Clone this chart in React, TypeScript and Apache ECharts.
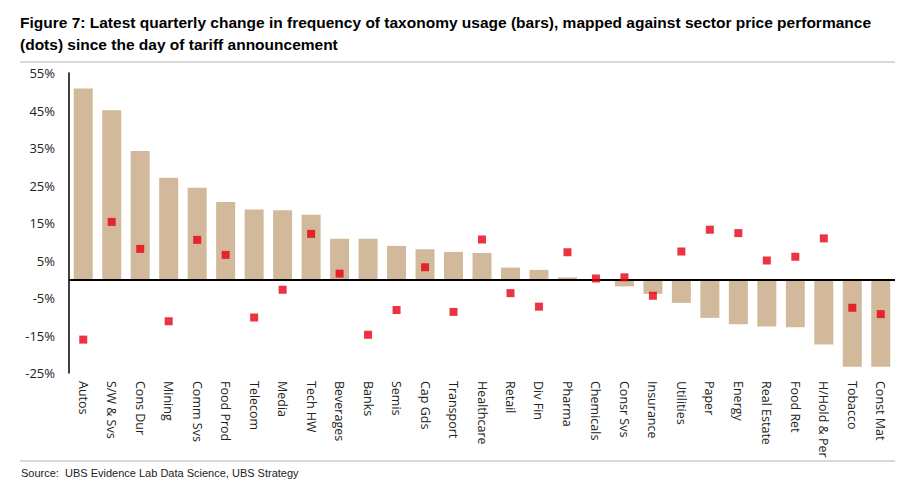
import React, { useEffect, useRef } from "react";
import * as echarts from "echarts";

const categories = [
  "Autos", "S/W & Svs", "Cons Dur", "Mining", "Comm Svs", "Food Prod", "Telecom", "Media", "Tech HW",
  "Beverages", "Banks", "Semis", "Cap Gds", "Transport", "Healthcare", "Retail", "Div Fin", "Pharma",
  "Chemicals", "Consr Svs", "Insurance", "Utilities", "Paper", "Energy", "Real Estate", "Food Ret",
  "H/Hold & Per", "Tobacco", "Const Mat",
];

// Latest quarterly change in frequency of taxonomy usage (bars), %
const usageChange = [
  50.9, 45.1, 34.2, 27.1, 24.4, 20.6, 18.6, 18.4, 17.2,
  10.8, 10.8, 8.9, 8.0, 7.3, 7.0, 3.1, 2.5, 0.5,
  0.0, -1.9, -3.9, -6.3, -10.3, -12.0, -12.6, -12.8,
  -17.4, -23.3, -23.3,
];

// Sector price performance since tariff announcement (dots), %
const pricePerf = [
  -16.1, 15.3, 8.1, -11.2, 10.5, 6.5, -10.2, -2.8, 12.1,
  1.5, -14.8, -8.2, 3.2, -8.7, 10.6, -3.7, -7.3, 7.2,
  0.2, 0.5, -4.4, 7.4, 13.2, 12.3, 5.0, 6.0,
  10.9, -7.6, -9.3,
];

const yTicks = { min: -25, max: 55, interval: 10 };

const titleLines = [
  "Figure 7: Latest quarterly change in frequency of taxonomy usage (bars), mapped against sector price performance",
  "(dots) since the day of tariff announcement",
];
const sourceText = "Source:  UBS Evidence Lab Data Science, UBS Strategy";

export default function App() {
  const ref = useRef<HTMLDivElement>(null);

  useEffect(() => {
    document.body.style.margin = "0";
    if (!ref.current) return;
    const chart = echarts.init(ref.current, null, { renderer: "svg" });
    const labelFont = "'Open Sans', 'DejaVu Sans', sans-serif";
    const titleFont = "'Liberation Sans Narrow', 'Liberation Sans', sans-serif";
    chart.setOption({
      animation: false,
      backgroundColor: "#ffffff",
      grid: { left: 69, right: 24, top: 73, bottom: 124, containLabel: false },
      xAxis: {
        type: "category",
        data: categories,
        axisLine: { show: false, onZero: false },
        axisTick: { show: false },
        axisLabel: {
          rotate: -90,
          interval: 0,
          margin: 8,
          color: "#222",
          fontSize: 12.5,
          fontFamily: labelFont,
        },
        splitLine: { show: false },
      },
      yAxis: {
        type: "value",
        min: yTicks.min,
        max: yTicks.max,
        interval: yTicks.interval,
        axisLine: { show: true, lineStyle: { color: "#000", width: 1.5 } },
        axisTick: { show: false },
        splitLine: { show: false },
        axisLabel: {
          formatter: (v: number) => `${v}%`,
          margin: 14,
          color: "#222",
          fontSize: 13,
          fontFamily: labelFont,
        },
      },
      series: [
        {
          name: "Usage change",
          type: "bar",
          data: usageChange,
          barWidth: 19,
          itemStyle: { color: "#d2b99c" },
          markLine: {
            silent: true,
            symbol: "none",
            label: { show: false },
            lineStyle: { color: "#000", width: 2, type: "solid" },
            data: [{ yAxis: 0 }],
          },
          z: 2,
        },
        {
          name: "Price performance",
          type: "scatter",
          data: pricePerf,
          symbol: "rect",
          symbolSize: 8,
          itemStyle: { color: "#e60012" },
          z: 5,
        },
      ],
      graphic: [
        {
          type: "text",
          left: 20,
          top: 14,
          style: {
            text: titleLines[0],
            font: `bold 15.5px ${titleFont}`,
            fill: "#000",
          },
        },
        {
          type: "text",
          left: 20,
          top: 36,
          style: {
            text: titleLines[1],
            font: `bold 15.5px ${titleFont}`,
            fill: "#000",
          },
        },
        {
          type: "line",
          shape: { x1: 20, y1: 62, x2: 895, y2: 62 },
          style: { stroke: "#cccccc", lineWidth: 1.5 },
        },
        {
          type: "line",
          shape: { x1: 20, y1: 461, x2: 895, y2: 461 },
          style: { stroke: "#cccccc", lineWidth: 1.5 },
        },
        {
          type: "text",
          left: 21,
          top: 467,
          style: {
            text: sourceText,
            font: `11px ${titleFont}`,
            fill: "#222",
          },
        },
      ],
    });
    return () => chart.dispose();
  }, []);

  return <div ref={ref} style={{ width: 919, height: 497 }} />;
}
